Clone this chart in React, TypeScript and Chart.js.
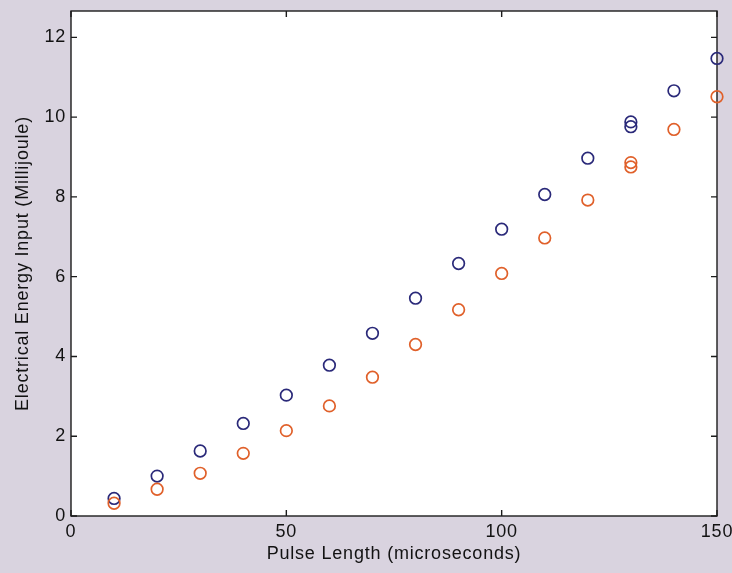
import React, { useEffect, useRef } from "react";
import { Chart, registerables } from "chart.js";

Chart.register(...registerables);

// Pulse length (microseconds) for each measurement
const pulseLengths = [10, 20, 30, 40, 50, 60, 70, 80, 90, 100, 110, 120, 130, 130, 140, 150];
// Blue series (electrical energy input, millijoule)
const blueEnergy = [0.44, 1.0, 1.63, 2.32, 3.03, 3.78, 4.58, 5.46, 6.33, 7.19, 8.06, 8.97, 9.88, 9.76, 10.66, 11.47];
// Orange series (electrical energy input, millijoule)
const orangeEnergy = [0.32, 0.67, 1.07, 1.57, 2.14, 2.76, 3.48, 4.3, 5.17, 6.08, 6.97, 7.92, 8.86, 8.75, 9.69, 10.51];

const xAxisTitle = "Pulse Length (microseconds)";
const yAxisTitle = "Electrical Energy Input (Millijoule)";
const xRange = [0, 150];
const yRange = [0, 12.66];
const xStep = 50;
const yStep = 2;

const FONT = "'Liberation Sans', Arial, Helvetica, sans-serif";
const TEXT = "#121212";
const BLUE = "#2a2979";
const ORANGE = "#e0602a";

const framePlugin = {
  id: "frame",
  beforeDraw(chart: any) {
    const { ctx, chartArea: a } = chart;
    ctx.save();
    ctx.fillStyle = "#ffffff";
    ctx.fillRect(a.left, a.top, a.right - a.left, a.bottom - a.top);
    ctx.restore();
    try {
      ctx.letterSpacing = "0.8px";
    } catch (e) {}
  },
  beforeDatasetsDraw(chart: any) {
    const { ctx, chartArea: a, scales } = chart;
    ctx.save();
    ctx.strokeStyle = "#1c1c1c";
    ctx.lineWidth = 1.4;
    ctx.strokeRect(a.left, a.top, a.right - a.left, a.bottom - a.top);
    const tl = 6;
    ctx.beginPath();
    scales.x.ticks.forEach((t: any) => {
      const px = scales.x.getPixelForValue(t.value);
      ctx.moveTo(px, a.bottom);
      ctx.lineTo(px, a.bottom - tl);
      ctx.moveTo(px, a.top);
      ctx.lineTo(px, a.top + tl);
    });
    scales.y.ticks.forEach((t: any) => {
      const py = scales.y.getPixelForValue(t.value);
      ctx.moveTo(a.left, py);
      ctx.lineTo(a.left + tl, py);
      ctx.moveTo(a.right, py);
      ctx.lineTo(a.right - tl, py);
    });
    ctx.stroke();
    ctx.restore();
  },
};

export default function App() {
  const canvasRef = useRef<HTMLCanvasElement | null>(null);

  useEffect(() => {
    if (!canvasRef.current) return;
    const blueData = pulseLengths.map((x, i) => ({ x, y: blueEnergy[i] }));
    const orangeData = pulseLengths.map((x, i) => ({ x, y: orangeEnergy[i] }));
    const chart = new Chart(canvasRef.current, {
      type: "scatter",
      data: {
        datasets: [
          {
            label: "Series 2",
            data: orangeData,
            borderColor: ORANGE,
            backgroundColor: "rgba(0,0,0,0)",
            pointRadius: 5.8,
            pointBorderWidth: 1.7,
            pointStyle: "circle",
            clip: false as any,
          },
          {
            label: "Series 1",
            data: blueData,
            borderColor: BLUE,
            backgroundColor: "rgba(0,0,0,0)",
            pointRadius: 5.8,
            pointBorderWidth: 1.7,
            pointStyle: "circle",
            clip: false as any,
          },
        ],
      },
      options: {
        animation: false,
        responsive: false,
        layout: { padding: { top: 11, right: 15, left: 0, bottom: 0 } },
        plugins: {
          legend: { display: false },
          tooltip: { enabled: false },
        },
        scales: {
          x: {
            type: "linear",
            min: xRange[0],
            max: xRange[1],
            ticks: {
              stepSize: xStep,
              includeBounds: false,
              color: TEXT,
              font: { family: FONT, size: 18 },
              padding: 5,
              maxRotation: 0,
            },
            grid: { display: false, drawTicks: false },
            border: { display: false },
            title: {
              display: true,
              text: xAxisTitle,
              color: TEXT,
              font: { family: FONT, size: 18 },
              padding: { top: 0, bottom: 8 },
            },
            afterFit(s: any) {
              s.height = 57;
              s.paddingLeft = 0;
              s.paddingRight = 0;
            },
          },
          y: {
            type: "linear",
            min: yRange[0],
            max: yRange[1],
            ticks: {
              stepSize: yStep,
              includeBounds: false,
              color: TEXT,
              font: { family: FONT, size: 18 },
              padding: 5,
            },
            grid: { display: false, drawTicks: false },
            border: { display: false },
            title: {
              display: true,
              text: yAxisTitle,
              color: TEXT,
              font: { family: FONT, size: 18 },
              padding: { top: 12, bottom: 0 },
            },
            afterFit(s: any) {
              s.width = 71;
              s.paddingTop = 0;
              s.paddingBottom = 0;
            },
          },
        },
      },
      plugins: [framePlugin],
    });
    return () => chart.destroy();
  }, []);

  return (
    <div
      style={{
        position: "fixed",
        left: 0,
        top: 0,
        width: 732,
        height: 573,
        background: "#d9d3df",
      }}
    >
      <canvas ref={canvasRef} width={732} height={573} style={{ display: "block" }} />
    </div>
  );
}
